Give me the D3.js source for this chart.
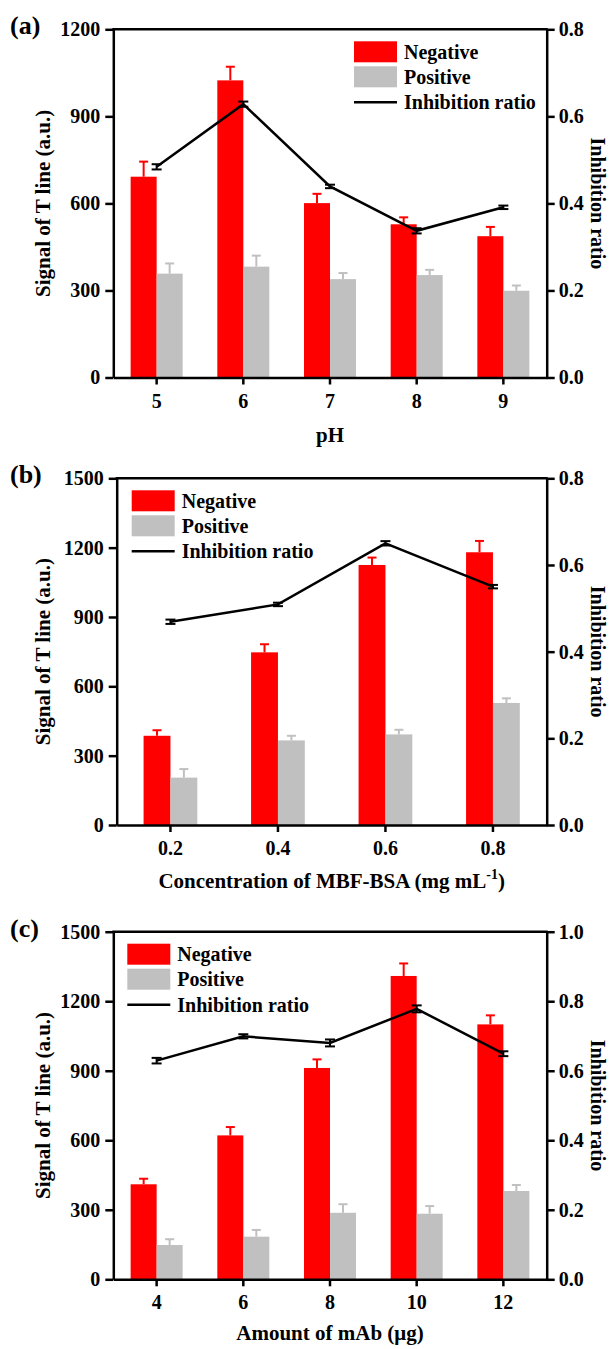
<!DOCTYPE html>
<html>
<head>
<meta charset="utf-8">
<script src="https://cdn.jsdelivr.net/npm/d3@7"></script>
<style>
  body { margin: 0; background: #fff; }
  text { font-family: "Liberation Serif", "Times New Roman", serif; font-weight: bold; fill: #000; }
</style>
</head>
<body>
<div id="chart"></div>
<script>
const WIDTH = 610;
const HEIGHT = 1349;

// (a) pH
const phLabels = ["5", "6", "7", "8", "9"];
const phNegative = [692, 1024, 601, 528, 487];
const phNegativeErr = [52, 47, 32, 24, 32];
const phPositive = [358, 382, 339, 353, 299];
const phPositiveErr = [35, 38, 21, 18, 18];
const phRatio = [0.484, 0.628, 0.439, 0.337, 0.391];
const phRatioErr = [0.006, 0.006, 0.004, 0.006, 0.004];
const phLeftTicks = [0, 300, 600, 900, 1200];
const phRightTicks = [0, 0.2, 0.4, 0.6, 0.8];

// (b) MBF-BSA concentration
const bsaLabels = ["0.2", "0.4", "0.6", "0.8"];
const bsaNegative = [386, 747, 1125, 1180];
const bsaNegativeErr = [24, 35, 32, 49];
const bsaPositive = [205, 366, 392, 528];
const bsaPositiveErr = [37, 20, 20, 20];
const bsaRatio = [0.469, 0.509, 0.650, 0.550];
const bsaRatioErr = [0.005, 0.004, 0.005, 0.004];
const bsaLeftTicks = [0, 300, 600, 900, 1200, 1500];
const bsaRightTicks = [0, 0.2, 0.4, 0.6, 0.8];

// (c) amount of mAb
const mabLabels = ["4", "6", "8", "10", "12"];
const mabNegative = [410, 621, 912, 1309, 1100];
const mabNegativeErr = [24, 36, 37, 54, 39];
const mabPositive = [148, 184, 287, 283, 381];
const mabPositiveErr = [25, 29, 37, 33, 26];
const mabRatio = [0.629, 0.699, 0.680, 0.778, 0.649];
const mabRatioErr = [0.008, 0.006, 0.010, 0.010, 0.007];
const mabLeftTicks = [0, 300, 600, 900, 1200, 1500];
const mabRightTicks = [0, 0.2, 0.4, 0.6, 0.8, 1.0];

const RED = "#ff0000";
const GREY = "#c0c0c0";

const svg = d3.select("#chart").append("svg")
  .attr("width", WIDTH)
  .attr("height", HEIGHT);

function drawPanel(p) {
  const g = svg.append("g");

  const x = d3.scaleBand().domain(p.labels).range([p.left, p.right]);
  const y = d3.scaleLinear().domain([0, d3.max(p.leftTicks)]).range([p.bottom, p.top]);
  const yr = d3.scaleLinear().domain([0, d3.max(p.rightTicks)]).range([p.bottom, p.top]);
  const bw = x.bandwidth() * p.barFrac;
  const cx = (d) => x(d) + x.bandwidth() / 2;

  // bars + one-sided error bars
  const series = [
    {vals: p.neg, errs: p.negErr, color: RED, off: -bw},
    {vals: p.pos, errs: p.posErr, color: GREY, off: 0}
  ];
  series.forEach((s) => {
    const rows = p.labels.map((lab, i) => ({lab: lab, v: s.vals[i], e: s.errs[i]}));
    g.append("g").selectAll("rect").data(rows).enter().append("rect")
      .attr("x", (d) => cx(d.lab) + s.off)
      .attr("y", (d) => y(d.v))
      .attr("width", bw)
      .attr("height", (d) => p.bottom - y(d.v))
      .attr("fill", s.color);
    const eg = g.append("g").attr("stroke", s.color).attr("stroke-width", 2);
    eg.selectAll("line.v").data(rows).enter().append("line")
      .attr("x1", (d) => cx(d.lab) + s.off + bw / 2)
      .attr("x2", (d) => cx(d.lab) + s.off + bw / 2)
      .attr("y1", (d) => y(d.v))
      .attr("y2", (d) => y(d.v + d.e));
    eg.selectAll("line.c").data(rows).enter().append("line")
      .attr("x1", (d) => cx(d.lab) + s.off + bw / 2 - 4.5)
      .attr("x2", (d) => cx(d.lab) + s.off + bw / 2 + 4.5)
      .attr("y1", (d) => y(d.v + d.e))
      .attr("y2", (d) => y(d.v + d.e));
  });

  // inhibition ratio line
  const pts = p.labels.map((lab, i) => ({lab: lab, r: p.ratio[i], e: p.ratioErr[i]}));
  g.append("path")
    .datum(pts)
    .attr("fill", "none")
    .attr("stroke", "#000")
    .attr("stroke-width", 2.5)
    .attr("d", d3.line().x((d) => cx(d.lab)).y((d) => yr(d.r)));
  const le = g.append("g").attr("stroke", "#000").attr("stroke-width", 2);
  pts.forEach((d) => {
    le.append("line").attr("x1", cx(d.lab)).attr("x2", cx(d.lab))
      .attr("y1", yr(d.r - d.e)).attr("y2", yr(d.r + d.e));
    [d.r - d.e, d.r + d.e].forEach((v) => {
      le.append("line").attr("x1", cx(d.lab) - 5).attr("x2", cx(d.lab) + 5)
        .attr("y1", yr(v)).attr("y2", yr(v));
    });
  });

  // axes
  const styleAxis = (sel) => {
    sel.selectAll(".domain").attr("stroke-width", 2.5);
    sel.selectAll(".tick line").attr("stroke-width", 2.5);
    sel.selectAll("text").attr("font-size", 20);
  };
  g.append("g")
    .attr("transform", "translate(" + p.left + ",0)")
    .call(d3.axisLeft(y).tickValues(p.leftTicks).tickSize(8).tickSizeOuter(0).tickPadding(5).tickFormat(d3.format("d")))
    .call(styleAxis);
  g.append("g")
    .attr("transform", "translate(" + p.right + ",0)")
    .call(d3.axisRight(yr).tickValues(p.rightTicks).tickSize(8).tickSizeOuter(0).tickPadding(4).tickFormat(d3.format(".1f")))
    .call(styleAxis);
  g.append("g")
    .attr("transform", "translate(0," + p.bottom + ")")
    .call(d3.axisBottom(x).tickSize(7).tickSizeOuter(0).tickPadding(9))
    .call(styleAxis);
  g.append("line")
    .attr("x1", p.left - 1).attr("x2", p.right + 1)
    .attr("y1", p.top).attr("y2", p.top)
    .attr("stroke", "#000").attr("stroke-width", 2.5);

  // titles
  g.append("text")
    .attr("transform", "translate(" + 50 + "," + (p.top + p.bottom) / 2 + ") rotate(-90)")
    .attr("text-anchor", "middle")
    .attr("font-size", 21)
    .text("Signal of T line (a.u.)");
  g.append("text")
    .attr("transform", "translate(" + 591 + "," + (p.top + p.bottom) / 2 + ") rotate(90)")
    .attr("text-anchor", "middle")
    .attr("font-size", 20)
    .text("Inhibition ratio");
  const xt = g.append("text")
    .attr("x", (p.left + p.right) / 2)
    .attr("y", p.bottom + p.xTitleDy)
    .attr("text-anchor", "middle")
    .attr("font-size", 21);
  xt.text(p.xTitle);
  if (p.xTitleSup) {
    xt.append("tspan").attr("font-size", 14).attr("dy", -9).text(p.xTitleSup);
    xt.append("tspan").attr("dy", 9).text(")");
  }
  g.append("text")
    .attr("x", 10)
    .attr("y", p.top + 5)
    .attr("font-size", 26)
    .text(p.tag);

  // legend
  const L = p.legendX, T = p.top;
  g.append("rect").attr("x", L).attr("y", T + 12).attr("width", 43).attr("height", 21).attr("fill", RED);
  g.append("rect").attr("x", L).attr("y", T + 37).attr("width", 43).attr("height", 21).attr("fill", GREY);
  g.append("line").attr("x1", L).attr("x2", L + 43).attr("y1", T + 73).attr("y2", T + 73)
    .attr("stroke", "#000").attr("stroke-width", 2.5);
  const names = ["Negative", "Positive", "Inhibition ratio"];
  const ys = [T + 29.5, T + 54.5, T + 80];
  names.forEach((n, i) => {
    g.append("text").attr("x", L + 50).attr("y", ys[i]).attr("font-size", 20).text(n);
  });
}

drawPanel({
  tag: "(a)", labels: phLabels, neg: phNegative, negErr: phNegativeErr,
  pos: phPositive, posErr: phPositiveErr, ratio: phRatio, ratioErr: phRatioErr,
  leftTicks: phLeftTicks, rightTicks: phRightTicks,
  left: 113.3, right: 546.7, top: 29.3, bottom: 377.5, barFrac: 0.3,
  legendX: 354, xTitle: "pH", xTitleDy: 64
});
drawPanel({
  tag: "(b)", labels: bsaLabels, neg: bsaNegative, negErr: bsaNegativeErr,
  pos: bsaPositive, posErr: bsaPositiveErr, ratio: bsaRatio, ratioErr: bsaRatioErr,
  leftTicks: bsaLeftTicks, rightTicks: bsaRightTicks,
  left: 116.7, right: 546.7, top: 478.3, bottom: 825, barFrac: 0.25,
  legendX: 131.7, xTitle: "Concentration of MBF-BSA (mg mL", xTitleSup: "-1", xTitleDy: 63
});
drawPanel({
  tag: "(c)", labels: mabLabels, neg: mabNegative, negErr: mabNegativeErr,
  pos: mabPositive, posErr: mabPositiveErr, ratio: mabRatio, ratioErr: mabRatioErr,
  leftTicks: mabLeftTicks, rightTicks: mabRightTicks,
  left: 113.3, right: 546.7, top: 931.7, bottom: 1279.3, barFrac: 0.3,
  legendX: 127.3, xTitle: "Amount of mAb (μg)", xTitleDy: 61
});
</script>
</body>
</html>
